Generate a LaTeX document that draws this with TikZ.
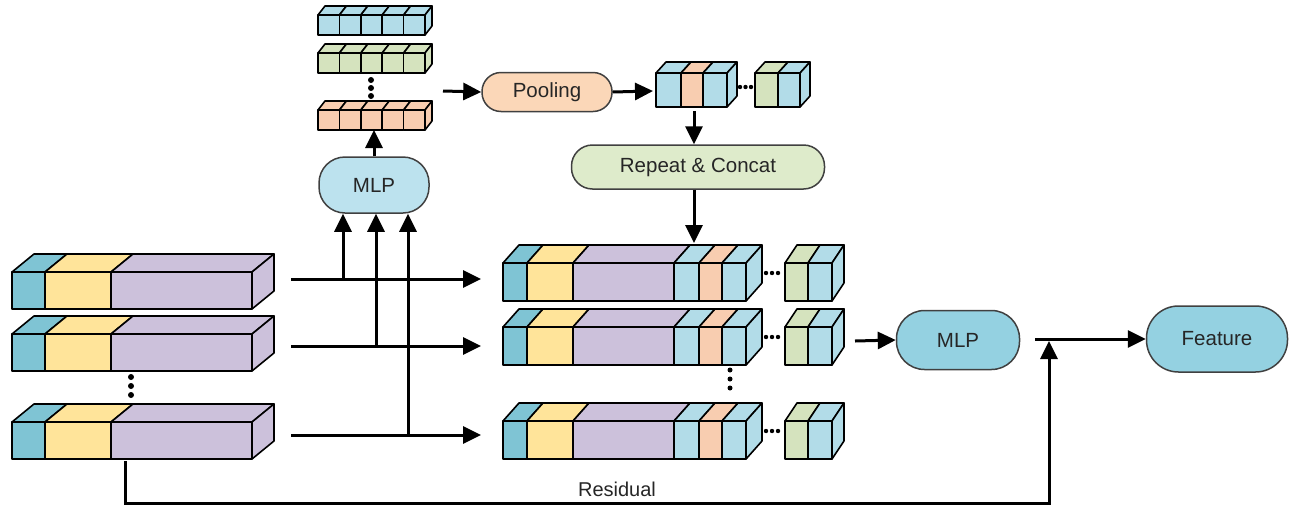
\documentclass[tikz,border=0pt]{standalone}
\usepackage{fontspec}
\setmainfont{Liberation Sans}
\usetikzlibrary{positioning,arrows.meta}

\definecolor{cyanA}{HTML}{7FC4D4}
\definecolor{yellowA}{HTML}{FFE49A}
\definecolor{purpleA}{HTML}{CCC1DB}
\definecolor{blueA}{HTML}{B2DCE8}
\definecolor{peachA}{HTML}{F8CDB0}
\definecolor{greenA}{HTML}{D5E3BE}
\definecolor{mlpA}{HTML}{BCE2EE}
\definecolor{mlpB}{HTML}{94D1E1}
\definecolor{poolA}{HTML}{FBD7B8}
\definecolor{repA}{HTML}{DEEBCB}

% block height and depth of the prisms
\def\bh{37}
\def\ddx{22}
\def\ddy{18}
\newcommand{\face}[4]{%
	\draw[cell, fill=#4] (#1,#3) rectangle (#2,#3+\bh);
	\draw[cell, fill=#4] (#1,#3) -- ++(\ddx,-\ddy) -- ++({(#2)-(#1)},0) -- (#2,#3) -- cycle;}
\newcommand{\side}[3]{%
	\draw[cell, fill=#3] (#1,#2) -- ++(\ddx,-\ddy) -- ++(0,\bh) -- (#1,#2+\bh) -- cycle;}
\newcommand{\inbar}[1]{%
	\face{12}{45}{#1}{cyanA}\face{45}{111}{#1}{yellowA}\face{111}{252}{#1}{purpleA}\side{252}{#1}{purpleA}}
\newcommand{\outbar}[1]{%
	\def\ddx{16}
	\face{503}{527}{#1}{cyanA}\face{527}{573}{#1}{yellowA}\face{573}{674}{#1}{purpleA}
	\face{674}{699}{#1}{blueA}\face{699}{722}{#1}{peachA}\face{722}{746}{#1}{blueA}\side{746}{#1}{blueA}
	\foreach \x in {766,772,778} \fill (\x,#1+10) circle (2.2);
	\def\ddx{12}
	\face{785}{808}{#1}{greenA}\face{808}{832}{#1}{blueA}\side{832}{#1}{blueA}}
\newcommand{\stack}[2]{%
	\foreach \i in {0,...,4} {\face{318+21.4*\i}{339.4+21.4*\i}{#1}{#2}}
	\side{425}{#1}{#2}}

\begin{document}
\begin{tikzpicture}[x=1pt, y=-1pt,
		cell/.style={draw=black, line width=1.6pt, line join=round},
		pill/.style={draw=black!75, line width=1.5pt, inner sep=0pt, text=black!85,
			font=\fontsize{20.5}{24}\selectfont},
		lbl/.style={font=\fontsize{20}{24}\selectfont, text=black!85},
		conn/.style={line width=3pt, -{Triangle[length=18pt,width=17pt]}},
		dot/.style={fill=black}
]

\useasboundingbox (0,0) rectangle (1295,509);

% input bars
\inbar{272}
\inbar{334}
\inbar{422}
\foreach \y in {377,386,395} \fill[dot] (131,\y) circle (3);

% per-group features
\def\bh{20}\def\ddx{7}\def\ddy{9}
\stack{15}{blueA}
\stack{53}{greenA}
\stack{110}{peachA}
\foreach \y in {80,88,96} \fill[dot] (371,\y) circle (3);

% pooled features
\def\bh{34}\def\ddx{10}\def\ddy{11}
\face{656}{681}{73}{blueA}\face{681}{703}{73}{peachA}\face{703}{727}{73}{blueA}\side{727}{73}{blueA}
\foreach \x in {740,745.5,751} \fill[dot] (\x,87) circle (2.2);
\face{755}{778}{73}{greenA}\face{778}{800}{73}{blueA}\side{800}{73}{blueA}

% concatenated bars
\def\bh{38}\def\ddy{18}
\outbar{263}
\outbar{327}
\outbar{421}
\foreach \y in {370,379,388} \fill[dot] (730,\y) circle (2.5);

\node[pill, fill=mlpA, minimum width=110, minimum height=56, rounded corners=26] (MLP) at (374,185) {MLP};
\node[pill, fill=poolA, minimum width=130, minimum height=39, rounded corners=19] (Pooling) at (547,92) {Pooling};
\node[pill, fill=repA, minimum width=253, minimum height=44, rounded corners=21] (Repeat) at (698,167) {Repeat \& Concat};
\node[pill, fill=mlpB, minimum width=123, minimum height=59, rounded corners=28] (MLPout) at (958,340) {MLP};
\node[pill, fill=mlpB, minimum width=141, minimum height=66, rounded corners=32] (Feature) at (1217,339) {Feature};
\node[lbl] (ResLabel) at (617,489) {Residual};

\coordinate (InA) at (291,279);
\coordinate (InB) at (291,346);
\coordinate (InC) at (291,435);
\coordinate (OutA) at (481,279);
\coordinate (OutB) at (481,346);
\coordinate (OutC) at (481,435);
\coordinate (TapA) at (343,279);
\coordinate (TapB) at (376,346);
\coordinate (TapC) at (408,435);
\coordinate (StackBot) at (374,130);
\coordinate (StackOut) at (443,91);
\coordinate (CubeIn) at (653,91);
\coordinate (CubeBot) at (694,111);
\coordinate (BarTop) at (694,243);
\coordinate (CubeOut) at (855,341);
\coordinate (Merge) at (1035,339);
\coordinate (ResStart) at (125,461);
\coordinate (ResCorner) at (125,503);
\coordinate (Join) at (1049,341);

\draw[conn] (InA) -- (OutA);
\draw[conn] (InB) -- (OutB);
\draw[conn] (InC) -- (OutC);
\draw[conn] (TapA) -- (TapA |- MLP.south);
\draw[conn] (TapB) -- (TapB |- MLP.south);
\draw[conn] (TapC) -- (TapC |- MLP.south);
\draw[conn] (MLP.north) -- (StackBot);
\draw[conn] (StackOut) -- (Pooling.west);
\draw[conn] (Pooling.east) -- (CubeIn);
\draw[conn] (CubeBot) -- (CubeBot |- Repeat.north);
\draw[conn] (Repeat.south -| BarTop) -- (BarTop);
\draw[conn] (CubeOut) -- (MLPout.west);
\draw[conn] (Merge) -- (Feature.west);
\draw[conn] (ResStart) -- (ResCorner) -| (Join);

\end{tikzpicture}
\end{document}
